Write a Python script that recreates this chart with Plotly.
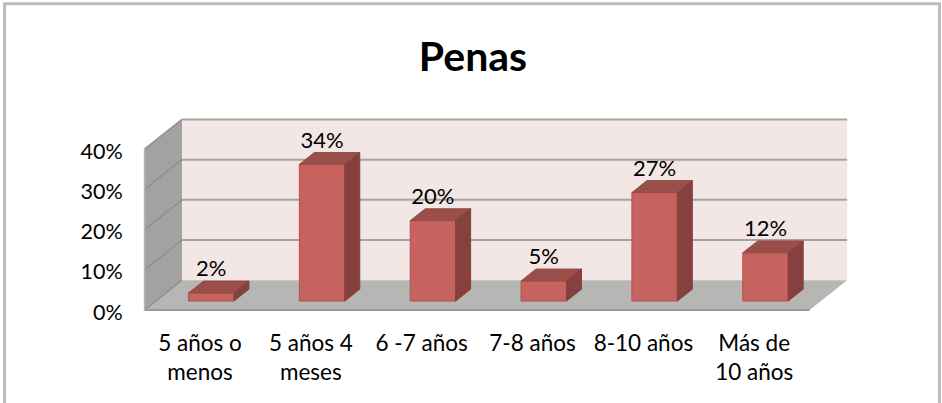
import plotly.graph_objects as go

categories = ["5 años o<br>menos", "5 años 4<br>meses", "6 -7 años", "7-8 años", "8-10 años", "Más de<br>10 años"]
values = [2, 34, 20, 5, 27, 12]
value_ticks = [0, 10, 20, 30, 40]

FONT = "Lato"
DX, DY = 0.338, 7.4      # oblique depth vector, in axis units
D0, D1 = 0.3, 0.7        # bar depth span
HALF = 0.205             # half bar width
XL, XR = -0.5, 5.5       # floor extent on the front plane
TOP = value_ticks[-1]

FRONT = "#c7635e"; TOPC = "#994e4a"; SIDE = "#86403e"; EDGE = "#b2524e"


def proj(x, v, d):
    return x + d * DX, v + d * DY


def poly_path(pts):
    return "M " + " L ".join(f"{x},{y}" for x, y in pts) + " Z"


def below(path, fill, line=None, width=0):
    return dict(type="path", path=path, xref="x", yref="y", fillcolor=fill,
                line=dict(color=line or fill, width=width), layer="below")


def seg(p, q, color, width):
    return dict(type="line", xref="x", yref="y", x0=p[0], y0=p[1], x1=q[0], y1=q[1],
                line=dict(color=color, width=width), layer="below")


shapes = [
    # chart frame
    dict(type="rect", xref="paper", yref="paper", x0=-0.188, x1=1.1196, y0=-0.6, y1=1.543,
         fillcolor="rgba(0,0,0,0)", line=dict(color="#bcbcbc", width=3), layer="below"),
    # back wall, floor, side wall
    below(poly_path([proj(XL, 0, 1), proj(XR, 0, 1), proj(XR, TOP, 1), proj(XL, TOP, 1)]), "#f3e7e5"),
    below(poly_path([proj(XL, 0, 0), proj(XR, 0, 0), proj(XR, 0, 1), proj(XL, 0, 1)]), "#b6b6b5"),
    below(poly_path([proj(XL, 0, 0), proj(XL, 0, 1), proj(XL, TOP, 1), proj(XL, TOP, 0)]), "#a2a2a2"),
]
for t in value_ticks:
    if t:
        shapes.append(seg(proj(XL, t, 1), proj(XR, t, 1), "#a3a3a3", 2))
    shapes.append(seg(proj(XL, t, 0), proj(XL, t, 1), "#8f8f8f", 1.5))
shapes.append(seg(proj(XL, 0, 0), proj(XR, 0, 0), "#9a9a9a", 2))
shapes.append(seg(proj(XL, 0, 0), proj(XL, TOP, 0), "#b5b5b5", 1.5))

fig = go.Figure()
# front faces
fig.add_trace(go.Bar(
    x=[i + D0 * DX for i in range(len(values))], y=values, base=D0 * DY, width=2 * HALF,
    marker=dict(color=FRONT, line=dict(color=EDGE, width=1)), hoverinfo="skip"))

# top and side faces
for i, v in enumerate(values):
    xa, xb = i - HALF, i + HALF
    top = [proj(xa, v, D0), proj(xb, v, D0), proj(xb, v, D1), proj(xa, v, D1)]
    side = [proj(xb, 0, D0), proj(xb, 0, D1), proj(xb, v, D1), proj(xb, v, D0)]
    for pts, col in ((top, TOPC), (side, SIDE)):
        fig.add_trace(go.Scatter(
            x=[p[0] for p in pts] + [pts[0][0]], y=[p[1] for p in pts] + [pts[0][1]],
            mode="lines", fill="toself", fillcolor=col, line=dict(color=col, width=1),
            hoverinfo="skip"))

# value labels
fig.add_trace(go.Scatter(
    x=[i + D0 * DX for i in range(len(values))],
    y=[v + D1 * DY - 0.2 for v in values],
    mode="text", text=[f"{v}%" for v in values], textposition="top center",
    textfont=dict(family=FONT, size=22, color="#000"), hoverinfo="skip"))

fig.update_layout(
    width=942, height=403, showlegend=False, paper_bgcolor="white", plot_bgcolor="rgba(0,0,0,0)",
    margin=dict(l=138.5, r=87.6, t=112.5, b=89, pad=0),
    title=dict(text="<b>Penas</b>", x=473 / 942, xanchor="center", y=1 - 57 / 403, yanchor="middle",
               font=dict(family=FONT, size=41, color="#000")),
    shapes=shapes,
    xaxis=dict(range=[-0.55, 5.9], tickmode="array", tickvals=list(range(6)), ticktext=categories,
               showgrid=False, zeroline=False, showline=False, ticks="outside", ticklen=9,
               tickcolor="rgba(0,0,0,0)", tickfont=dict(family=FONT, size=22.5, color="#000")),
    yaxis=dict(range=[-1, 49], tickmode="array", tickvals=value_ticks, ticktext=[f"{t}%" for t in value_ticks],
               showgrid=False, zeroline=False, showline=False, ticks="outside", ticklen=11,
               ticklabelshift=2,
               tickcolor="rgba(0,0,0,0)", tickfont=dict(family=FONT, size=21.5, color="#000")),
)

fig.write_html("out.html", post_script="document.body.style.margin='0';", config={"displayModeBar": False})
